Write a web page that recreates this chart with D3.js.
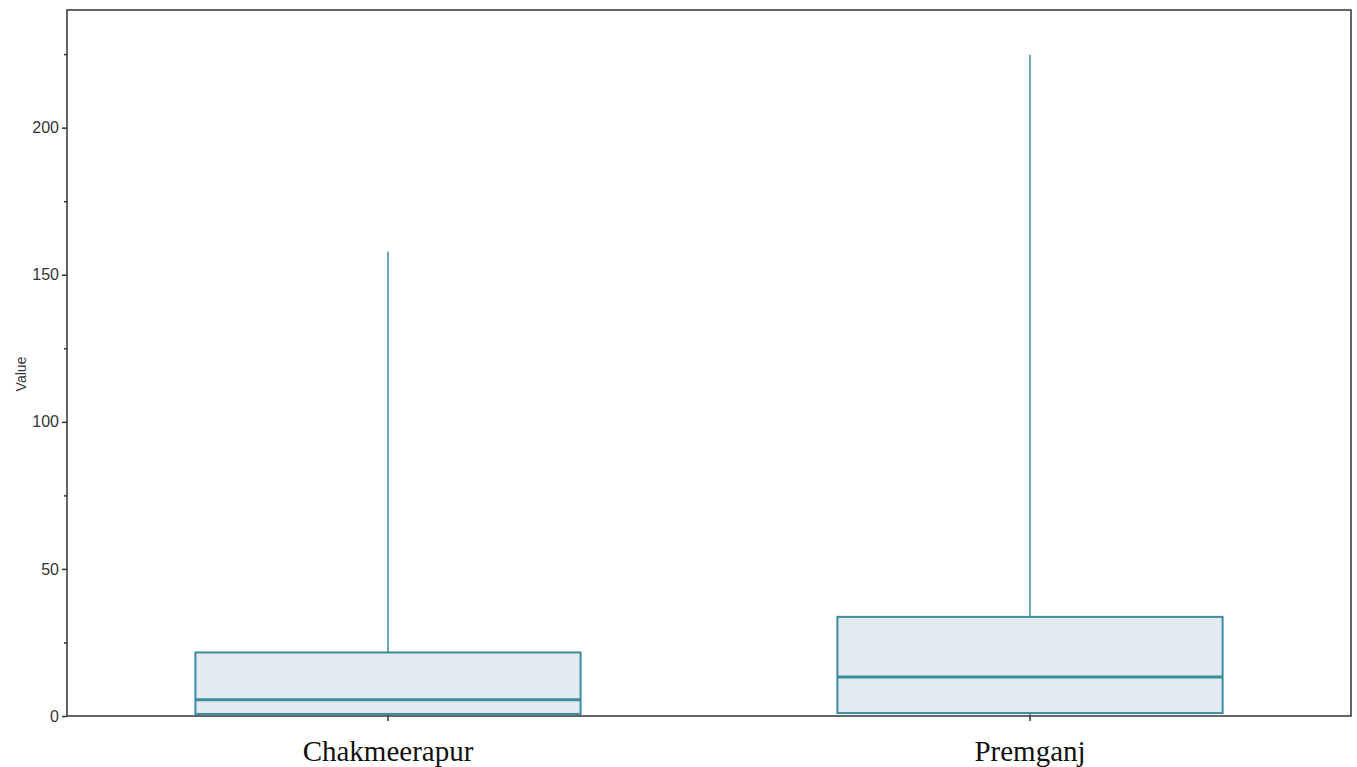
<!DOCTYPE html>
<html lang="en">
<head>
  <meta charset="UTF-8">
  <title>Box plot</title>
  <script src="https://d3js.org/d3.v7.min.js"></script>
  <style>
    body { margin: 0; background: #fff; }
    .ylab text { font-family: "Liberation Sans", Arial, sans-serif; font-size: 16px; fill: #333; }
    .xlab text { font-family: "Liberation Serif", "Times New Roman", serif; font-size: 29px; fill: #111; }
  </style>
</head>
<body>
  <svg width="1357" height="767"></svg>

  <script>
    // data
    const categories = ["Chakmeerapur", "Premganj"];
    const lowWhisker = [0, 0];
    const q1 = [0.7, 1.0];
    const median = [5.5, 13.3];
    const q3 = [21.6, 33.7];
    const highWhisker = [157.8, 224.8];
    const yTicks = [0, 50, 100, 150, 200];
    const yMinorTicks = [25, 75, 125, 175, 225];

    const boxes = categories.map((c, i) => ({
      name: c, lo: lowWhisker[i], q1: q1[i], med: median[i], q3: q3[i], hi: highWhisker[i]
    }));

    const svg = d3.select("svg");
    const margin = {top: 10, right: 6, bottom: 51, left: 67};
    const width = +svg.attr("width") - margin.left - margin.right;
    const height = +svg.attr("height") - margin.top - margin.bottom;

    const chart = svg.append("g")
        .attr("transform", `translate(${margin.left},${margin.top})`);

    const x = d3.scaleBand()
        .domain(categories)
        .range([0, width])
        .padding(0);

    const y = d3.scaleLinear()
        .domain([0, 240])
        .range([height, 0]);

    const stroke = "#3d8b9e";
    const boxW = x.bandwidth() * 0.6;

    // y axis
    const yAxis = chart.append("g")
        .attr("class", "ylab")
        .call(d3.axisLeft(y).tickValues(yTicks).tickSize(5).tickPadding(3));
    yAxis.select(".domain").remove();
    yAxis.selectAll("line").attr("stroke", "#333").attr("stroke-width", 1.5);

    chart.append("g")
        .call(d3.axisLeft(y).tickValues(yMinorTicks).tickSize(3).tickFormat(""))
        .call(g => g.select(".domain").remove())
        .selectAll("line").attr("stroke", "#333").attr("stroke-width", 1.5);

    // x axis
    const xAxis = chart.append("g")
        .attr("class", "xlab")
        .attr("transform", `translate(0,${height})`)
        .call(d3.axisBottom(x).tickSize(5));
    xAxis.select(".domain").remove();
    xAxis.selectAll("line").attr("stroke", "#333").attr("stroke-width", 1.5);
    xAxis.selectAll("text").attr("y", 45).attr("dy", 0);

    // y title
    svg.append("text")
        .attr("transform", `translate(26,${margin.top + height / 2 + 11}) rotate(-90)`)
        .attr("text-anchor", "middle")
        .style("font-family", "'Liberation Sans', Arial, sans-serif")
        .style("font-size", "14px")
        .attr("fill", "#333")
        .text("Value");

    const g = chart.selectAll(".box")
      .data(boxes)
      .enter().append("g")
        .attr("class", "box")
        .attr("transform", d => `translate(${x(d.name) + x.bandwidth() / 2},0)`);

    g.append("line")
        .attr("y1", d => y(d.hi))
        .attr("y2", d => y(d.q3))
        .attr("stroke", stroke)
        .attr("stroke-width", 1.5);

    g.append("line")
        .attr("y1", d => y(d.q1))
        .attr("y2", d => y(d.lo))
        .attr("stroke", stroke)
        .attr("stroke-width", 1.5);

    g.append("rect")
        .attr("x", -boxW / 2)
        .attr("width", boxW)
        .attr("y", d => y(d.q3))
        .attr("height", d => y(d.q1) - y(d.q3))
        .attr("fill", "#e3eaf1")
        .attr("stroke", stroke)
        .attr("stroke-width", 2);

    g.append("line")
        .attr("x1", -boxW / 2)
        .attr("x2", boxW / 2)
        .attr("y1", d => y(d.med))
        .attr("y2", d => y(d.med))
        .attr("stroke", stroke)
        .attr("stroke-width", 3);

    // frame
    chart.append("rect")
        .attr("width", width)
        .attr("height", height)
        .attr("fill", "none")
        .attr("stroke", "#333")
        .attr("stroke-width", 1.5);
  </script>
</body>
</html>
